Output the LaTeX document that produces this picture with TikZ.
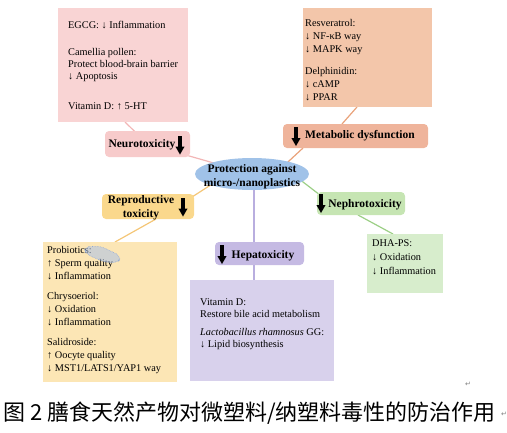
\documentclass[tikz,border=0pt]{standalone}
\usepackage{fontspec}
\setmainfont{Liberation Serif}
\newfontfamily\cjk{Noto Sans CJK SC}
\newfontfamily\dejavu{DejaVu Sans}
\usetikzlibrary{backgrounds,shapes.geometric}
\definecolor{pinkA}{HTML}{F9D4D4}
\definecolor{pinkB}{HTML}{F7CBCB}
\definecolor{pinkC}{HTML}{F2B6B6}
\definecolor{orA}{HTML}{F3C6AA}
\definecolor{orB}{HTML}{EFB49B}
\definecolor{orC}{HTML}{E9A27A}
\definecolor{yeA}{HTML}{FCE6B5}
\definecolor{yeB}{HTML}{FAD88C}
\definecolor{yeC}{HTML}{F4C677}
\definecolor{grA}{HTML}{D7EDCC}
\definecolor{grB}{HTML}{C6E5B3}
\definecolor{grC}{HTML}{9CCF86}
\definecolor{puA}{HTML}{D8D1EC}
\definecolor{puB}{HTML}{C5BAE3}
\definecolor{puC}{HTML}{B9AEDF}
\definecolor{elA}{HTML}{A0C2E8}
\definecolor{blob}{HTML}{A9C0E8}
\definecolor{blobE}{HTML}{8FA8D6}
\begin{document}
\begin{tikzpicture}[x=1pt,y=-1pt,
  box/.style={rectangle, inner sep=0pt, outer sep=0pt},
  lbl/.style={rectangle, rounded corners=4pt, inner sep=0pt, outer sep=0pt},
  txt/.style={inner sep=0pt, anchor=base west, align=left},
  ttl/.style={inner sep=0pt, font=\bfseries\fontsize{11.5}{14}\selectfont, align=center},
  conn/.style={line width=1.2pt},
  darr/.pic={\fill[black] (-1.8,-9.5) rectangle (1.8,1.5); \fill[black] (-4.6,1.5) -- (4.6,1.5) -- (0,9.5) -- cycle;}
]
\useasboundingbox (0,0) rectangle (507,432);

% content boxes
\node[box, fill=pinkA, minimum width=130pt, minimum height=114pt] (pinkbox) at (123,65) {};
\node[box, fill=orA, minimum width=129pt, minimum height=99pt] (orbox) at (367.5,57.5) {};
\node[box, fill=yeA, minimum width=134pt, minimum height=140pt] (yebox) at (110,312) {};
\node[box, fill=puA, minimum width=144pt, minimum height=101pt] (pubox) at (262,330.5) {};
\node[box, fill=grA, minimum width=76pt, minimum height=59pt] (grbox) at (405,263.5) {};

% label boxes
\node[lbl, fill=pinkB, minimum width=85pt, minimum height=26pt] (neuro) at (147.5,144) {};
\node[lbl, fill=orB, minimum width=145pt, minimum height=24pt] (metab) at (355.5,136) {};
\node[lbl, fill=yeB, minimum width=92pt, minimum height=25pt] (repro) at (148,206.5) {};
\node[lbl, fill=grB, minimum width=88pt, minimum height=23pt] (neph) at (361,203.5) {};
\node[lbl, fill=puB, minimum width=89pt, minimum height=23pt] (hepa) at (259.5,253.5) {};
\node[ellipse, fill=elA, minimum width=114pt, minimum height=32pt, inner sep=0pt] (ell) at (252,174) {};

% connectors
\begin{scope}[on background layer]
\draw[conn, pinkC] ([xshift=2pt]pinkbox.south) -- (neuro.center) -- (ell.center);
\draw[conn, orC] ([xshift=-10.5pt]orbox.south) -- ([xshift=-13.5pt]metab.north);
\draw[conn, orC] ([xshift=-52.5pt]metab.south) -- ([shift={(23,0)}]ell.center);
\draw[conn, yeC] ([shift={(-32,5)}]ell.center) -- ([shift={(37,-5)}]repro.center);
\draw[conn, yeC] ([xshift=8pt]repro.south) -- ([xshift=5pt]yebox.north);
\draw[conn, grC] ([shift={(38,-2)}]ell.center) -- ([shift={(-28,1.5)}]neph.center);
\draw[conn, grC] ([xshift=-3pt]neph.south) -- ([xshift=-12pt]grbox.north);
\draw[conn, puC] ([xshift=2pt]ell.center) -- ([xshift=-5.5pt]hepa.center) -- ([xshift=-8pt]pubox.north);
\end{scope}

% centre text
\node[ttl] (elltext) at (252,177) {Protection against\\micro-/nanoplastics};

% label texts and arrows
\node[ttl] (neurot) at (142,144.5) {Neurotoxicity};
\pic at (180,145) {darr};
\node[ttl] (metabt) at (360,136) {Metabolic dysfunction};
\pic at (296,136.5) {darr};
\node[ttl] (reprot) at (141,207.5) {Reproductive\\toxicity};
\pic at (183,207) {darr};
\node[ttl] (nepht) at (365,204.5) {Nephrotoxicity};
\pic at (321,203.5) {darr};
\node[ttl] (hepat) at (263,255.5) {Hepatoxicity};
\pic at (222,254.5) {darr};

% box texts (anchor = baseline of last line)
\node[txt, font=\fontsize{10.3}{12}\selectfont] (pinkt) at (68,109) {EGCG: ↓ Inflammation\\[15pt]Camellia pollen:\\Protect blood-brain barrier\\↓ Apoptosis\\[18pt]Vitamin D: ↑ 5-HT};
\node[txt, font=\fontsize{10.3}{13.2}\selectfont] (ort) at (305,100.5) {Resveratrol:\\↓ NF-κB way\\↓ MAPK way\\[8pt]Delphinidin:\\↓ cAMP\\↓ PPAR};
\node[txt, font=\fontsize{10.3}{13}\selectfont] (yet) at (47,371.5) {Probiotics:\\↑ Sperm quality\\↓ Inflammation\\[7pt]Chrysoeriol:\\↓ Oxidation\\↓ Inflammation\\[7pt]Salidroside:\\↑ Oocyte quality\\↓ MST1/LATS1/YAP1 way};
\node[txt, font=\fontsize{10.3}{12}\selectfont] (put) at (200,347.5) {Vitamin D:\\Restore bile acid metabolism\\[6pt]\textit{Lactobacillus rhamnosus} GG:\\↓ Lipid biosynthesis};
\node[txt, font=\fontsize{10.3}{14}\selectfont] (grt) at (372,274.5) {DHA-PS:\\↓ Oxidation\\↓ Inflammation};

% blur artefact on Probiotics
\filldraw[fill=blob, draw=blobE, densely dotted, line width=0.6pt, fill opacity=0.55, rounded corners=5pt] (84,247) -- (100,246) -- (121,256) -- (118,263) -- (104,262) -- (86,254) -- cycle;

% caption
\node[inner sep=0pt, anchor=base west, font=\cjk\fontsize{22}{24}\selectfont] (cap) at (3,420) {图 2 膳食天然产物对微塑料/纳塑料毒性的防治作用};
\node[inner sep=0pt, font=\dejavu\fontsize{7}{8}\selectfont, text=gray] (pm1) at (468,384) {↵};
\node[inner sep=0pt, anchor=west, font=\dejavu\fontsize{7}{8}\selectfont, text=gray] (pm2) at (501,414) {↵};
\end{tikzpicture}
\end{document}
